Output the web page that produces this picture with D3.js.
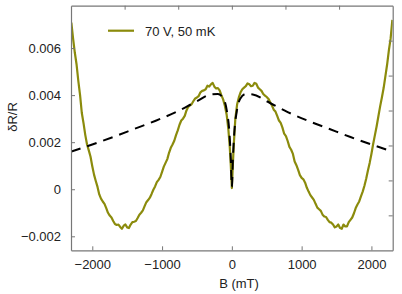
<!DOCTYPE html>
<html>
<head>
<meta charset="utf-8">
<script src="https://cdn.jsdelivr.net/npm/d3@7"></script>
<style>
  body { margin: 0; background: #fff; }
  text { font-family: "Liberation Sans", Arial, sans-serif; fill: #222; }
</style>
</head>
<body>
<div class="chart"></div>
<script>
const fieldB = [-2300, -2275, -2250, -2225, -2200, -2175, -2150, -2125, -2100, -2075,
  -2050, -2025, -2000, -1975, -1950, -1925, -1900, -1875, -1850, -1825,
  -1800, -1775, -1750, -1725, -1700, -1675, -1650, -1625, -1600, -1575,
  -1550, -1525, -1500, -1475, -1450, -1425, -1400, -1375, -1350, -1325,
  -1300, -1275, -1250, -1225, -1200, -1175, -1150, -1125, -1100, -1075,
  -1050, -1025, -1000, -975, -950, -925, -900, -875, -850, -825,
  -800, -775, -750, -725, -700, -675, -650, -625, -600, -575,
  -550, -525, -500, -475, -450, -425, -400, -375, -350, -325,
  -300, -275, -250, -225, -200, -175, -150, -125, -100, -75,
  -50, -30, -15, 0, 15, 30, 50, 75, 100, 125,
  150, 175, 200, 225, 250, 275, 300, 325, 350, 375,
  400, 425, 450, 475, 500, 525, 550, 575, 600, 625,
  650, 675, 700, 725, 750, 775, 800, 825, 850, 875,
  900, 925, 950, 975, 1000, 1025, 1050, 1075, 1100, 1125,
  1150, 1175, 1200, 1225, 1250, 1275, 1300, 1325, 1350, 1375,
  1400, 1425, 1450, 1475, 1500, 1525, 1550, 1575, 1600, 1625,
  1650, 1675, 1700, 1725, 1750, 1775, 1800, 1825, 1850, 1875,
  1900, 1925, 1950, 1975, 2000, 2025, 2050, 2075, 2100, 2125,
  2150, 2175, 2200, 2225, 2250, 2275, 2300];
const dRR70V = [0.00708, 0.0064, 0.0058, 0.0053, 0.0046, 0.004, 0.00324, 0.0028, 0.0023, 0.0019,
  0.00165, 0.00138, 0.00098, 0.00062, 0.00035, 0.0001, -0.00022, -0.0004, -0.00052, -0.00062,
  -0.0008, -0.001, -0.00112, -0.0012, -0.00135, -0.00148, -0.00152, -0.0015, -0.0016, -0.00168,
  -0.00155, -0.0015, -0.00162, -0.00165, -0.0015, -0.0014, -0.00138, -0.00135, -0.00122, -0.00108,
  -0.001, -0.0009, -0.00072, -0.00055, -0.00046, -0.00036, -0.0002, -0.00002, 0.00012, 0.0003,
  0.0004, 0.00052, 0.00074, 0.00096, 0.00112, 0.00128, 0.00155, 0.00176, 0.0019, 0.00206,
  0.0023, 0.0025, 0.00274, 0.00292, 0.003, 0.00312, 0.00335, 0.0035, 0.00356, 0.00362,
  0.00375, 0.00386, 0.0039, 0.00396, 0.00412, 0.00418, 0.0042, 0.00425, 0.0044, 0.00436,
  0.00446, 0.00452, 0.00436, 0.00428, 0.0043, 0.0042, 0.004, 0.00382, 0.00355, 0.00318,
  0.00255, 0.0018, 0.001, 0.00005, 0.0011, 0.002, 0.003, 0.0036, 0.0039, 0.00412,
  0.00425, 0.00432, 0.00438, 0.0045, 0.00446, 0.00438, 0.0044, 0.00452, 0.00448, 0.00432,
  0.00425, 0.00418, 0.00405, 0.00398, 0.00392, 0.00384, 0.0037, 0.00356, 0.00338, 0.0033,
  0.00312, 0.00292, 0.00282, 0.00262, 0.00236, 0.00226, 0.00205, 0.0018, 0.00168, 0.0015,
  0.00118, 0.00102, 0.00082, 0.0006, 0.00048, 0.00042, 0.00028, 0.00006, -0.0001, -0.00025,
  -0.00035, -0.00045, -0.00062, -0.00078, -0.00085, -0.00092, -0.00108, -0.00116, -0.00118, -0.0013,
  -0.0014, -0.00142, -0.0015, -0.00162, -0.00158, -0.0015, -0.00165, -0.00168, -0.0015, -0.00158,
  -0.00158, -0.0014, -0.0013, -0.0012, -0.00102, -0.0008, -0.00065, -0.00052, -0.0003, -0.0001,
  0.00015, 0.00045, 0.0008, 0.00112, 0.0015, 0.00192, 0.0023, 0.00268, 0.0031, 0.00352,
  0.0039, 0.0043, 0.0048, 0.0053, 0.0059, 0.0064, 0.0072];

// dashed model curve
const modelB = [-2305, -2000, -1700, -1400, -1100, -800, -500, -300, -200, -120, -70, -35, -15, 0,
  15, 35, 70, 120, 200, 300, 500, 800, 1100, 1400, 1700, 2000, 2305];
const modelDRR = [0.0016, 0.0019, 0.00222, 0.00256, 0.0029, 0.00328, 0.00374, 0.00403, 0.00405, 0.00385, 0.0033, 0.0024, 0.0013, 0.0001,
  0.0013, 0.0024, 0.0033, 0.00385, 0.00405, 0.00403, 0.00374, 0.00328, 0.0029, 0.00256, 0.00222, 0.0019, 0.0016];

const xTicks = [-2000, -1000, 0, 1000, 2000];
const yTicks = [-0.002, 0, 0.002, 0.004, 0.006];
const topTicks = [-2, -1, 0, 1, 2];
const rightTicks = [1, 2, 3, 4, 5, 6];
const legendLabel = "70 V, 50 mK";

const width = 402, height = 294;
const pLeft = 71, pRight = 392.7, pTop = 5.7, pBottom = 250.3;
const olive = "#8b8b0c";
const fontSize = 13;

const svg = d3.select(".chart").append("svg")
  .attr("width", width)
  .attr("height", height);

const x = d3.scaleLinear().domain([-2305, 2305]).range([pLeft, pRight]);
const y = d3.scaleLinear().domain([-0.002595, 0.0078]).range([pBottom, pTop]);
const xTop = d3.scaleLinear().domain([-3, 3]).range([pLeft, pRight]);
const yRight = d3.scaleLinear().domain([0, 7]).range([pBottom, pTop]);

const fmt = d => d === 0 ? "0" : d3.format(".3f")(d).replace("-", "\u2212");
const fmtX = d => String(d).replace("-", "\u2212");

svg.append("defs").append("clipPath").attr("id", "clip")
  .append("rect")
  .attr("x", pLeft).attr("y", pTop)
  .attr("width", pRight - pLeft).attr("height", pBottom - pTop);

const plot = svg.append("g").attr("clip-path", "url(#clip)");

const line = d3.line()
  .x(d => x(d[0]))
  .y(d => y(d[1]));

plot.append("path")
  .datum(d3.zip(fieldB, dRR70V))
  .attr("fill", "none")
  .attr("stroke", olive)
  .attr("stroke-width", 2.2)
  .attr("stroke-linejoin", "round")
  .attr("d", line);

plot.append("path")
  .datum(d3.zip(modelB, modelDRR))
  .attr("fill", "none")
  .attr("stroke", "#000")
  .attr("stroke-width", 2)
  .attr("stroke-dasharray", "10,7")
  .attr("d", line.curve(d3.curveMonotoneX));

// frame axes, ticks inside
const tickColor = "#777";
const axB = svg.append("g").attr("transform", `translate(0,${pBottom})`)
  .call(d3.axisBottom(x).tickValues(xTicks).tickSizeInner(-4).tickSizeOuter(0).tickPadding(9).tickFormat(fmtX));
const axL = svg.append("g").attr("transform", `translate(${pLeft},0)`)
  .call(d3.axisLeft(y).tickValues(yTicks).tickSizeInner(-4).tickSizeOuter(0).tickPadding(10).tickFormat(fmt));
const axT = svg.append("g").attr("transform", `translate(0,${pTop})`)
  .call(d3.axisTop(xTop).tickValues(topTicks).tickSizeInner(-4).tickSizeOuter(0).tickFormat(""));
const axR = svg.append("g").attr("transform", `translate(${pRight},0)`)
  .call(d3.axisRight(yRight).tickValues(rightTicks).tickSizeInner(-4).tickSizeOuter(0).tickFormat(""));

[axB, axL, axT, axR].forEach(g => {
  g.select(".domain").attr("stroke", tickColor).attr("stroke-width", 1.2);
  g.selectAll(".tick line").attr("stroke", tickColor);
  g.selectAll("text").attr("font-size", fontSize).attr("fill", "#222")
    .attr("font-family", "'Liberation Sans', Arial, sans-serif");
});
axB.selectAll("text").attr("dy", "0.71em");

// axis labels
svg.append("text")
  .attr("x", 239).attr("y", 288)
  .attr("text-anchor", "middle")
  .attr("font-size", fontSize)
  .text("B (mT)");

svg.append("text")
  .attr("transform", "translate(17,117) rotate(-90)")
  .attr("text-anchor", "middle")
  .attr("font-size", fontSize)
  .text("\u03b4R/R");

// legend
svg.append("line")
  .attr("x1", 108).attr("x2", 134)
  .attr("y1", 30.7).attr("y2", 30.7)
  .attr("stroke", olive).attr("stroke-width", 2.2);
svg.append("text")
  .attr("x", 145).attr("y", 35.5)
  .attr("font-size", fontSize)
  .text(legendLabel);
</script>
</body>
</html>
